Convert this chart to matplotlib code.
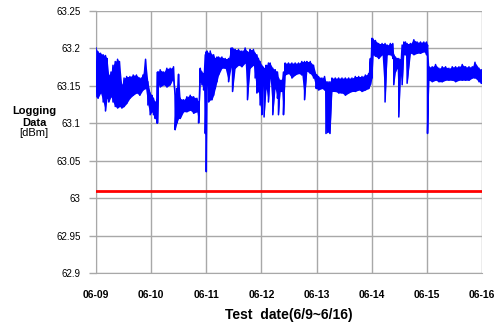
# logging data, 6/9 ~ 6/16

import numpy as np
import matplotlib.pyplot as plt

plt.rcParams['font.family'] = ['Liberation Sans', 'DejaVu Sans']

# time in days from 06-09 00:00, upper / lower level of the logged band (dBm)
t_day = [0.000, 0.036, 0.083, 0.130, 0.172, 0.201, 0.231, 0.272, 0.308, 0.349,
         0.391, 0.426, 0.467, 0.509, 0.556, 0.615, 0.675, 0.734, 0.793, 0.852,
         0.899, 0.941, 0.982,
         1.012, 1.042, 1.073, 1.103, 1.115, 1.133, 1.164, 1.224, 1.285, 1.345,
         1.406, 1.436, 1.467, 1.497, 1.527, 1.588, 1.648, 1.709, 1.770, 1.830,
         1.861, 1.891, 1.921, 1.952, 1.982, 2.000,
         2.012, 2.042, 2.072, 2.102, 2.133, 2.163, 2.193, 2.223, 2.283, 2.343,
         2.404, 2.452, 2.476, 2.524, 2.584, 2.645, 2.705, 2.747, 2.795, 2.855,
         2.886, 2.916, 2.946, 2.976, 3.006,
         3.024, 3.048, 3.085, 3.127, 3.158, 3.206, 3.248, 3.291, 3.309, 3.339,
         3.370, 3.400, 3.430, 3.491, 3.552, 3.612, 3.673, 3.733, 3.782, 3.824,
         3.885, 3.945, 3.994,
         4.006, 4.036, 4.097, 4.145, 4.170, 4.206, 4.242, 4.279, 4.339, 4.400,
         4.461, 4.521, 4.582, 4.642, 4.703, 4.764, 4.824, 4.885, 4.945, 4.976,
         5.006,
         5.024, 5.067, 5.127, 5.188, 5.242, 5.279, 5.339, 5.382, 5.400, 5.430,
         5.461, 5.491, 5.521, 5.552, 5.582, 5.612, 5.642, 5.703, 5.764, 5.824,
         5.885, 5.945, 5.994, 6.012,
         6.036, 6.097, 6.158, 6.218, 6.279, 6.339, 6.400, 6.461, 6.521, 6.582,
         6.642, 6.703, 6.764, 6.824, 6.873, 6.945, 6.988]

hi = [63.200, 63.195, 63.193, 63.191, 63.190, 63.186, 63.164, 63.168, 63.177, 63.182,
      63.185, 63.182, 63.151, 63.160, 63.162, 63.162, 63.164, 63.164, 63.160, 63.164,
      63.185, 63.155, 63.140,
      63.137, 63.133, 63.128, 63.131, 63.168, 63.168, 63.171, 63.168, 63.173, 63.173,
      63.175, 63.137, 63.146, 63.165, 63.133, 63.131, 63.135, 63.137, 63.135, 63.133,
      63.128, 63.173, 63.168, 63.166, 63.191, 63.195,
      63.196, 63.193, 63.196, 63.191, 63.191, 63.186, 63.188, 63.188, 63.188, 63.186,
      63.186, 63.200, 63.200, 63.198, 63.198, 63.196, 63.200, 63.195, 63.198, 63.198,
      63.193, 63.191, 63.186, 63.182, 63.177,
      63.175, 63.173, 63.177, 63.180, 63.180, 63.173, 63.171, 63.168, 63.160, 63.157,
      63.157, 63.168, 63.180, 63.180, 63.180, 63.180, 63.180, 63.182, 63.182, 63.182,
      63.182, 63.177, 63.164,
      63.164, 63.162, 63.160, 63.162, 63.155, 63.155, 63.155, 63.160, 63.160, 63.160,
      63.160, 63.160, 63.160, 63.160, 63.162, 63.162, 63.162, 63.164, 63.166, 63.186,
      63.213,
      63.212, 63.210, 63.206, 63.206, 63.206, 63.204, 63.206, 63.206, 63.191, 63.188,
      63.186, 63.186, 63.184, 63.204, 63.208, 63.208, 63.206, 63.206, 63.211, 63.208,
      63.208, 63.208, 63.208, 63.204,
      63.175, 63.175, 63.178, 63.173, 63.175, 63.175, 63.173, 63.175, 63.175, 63.175,
      63.178, 63.175, 63.175, 63.175, 63.181, 63.173, 63.171]

lo = [63.135, 63.133, 63.140, 63.128, 63.116, 63.133, 63.128, 63.135, 63.128, 63.122,
      63.120, 63.122, 63.120, 63.122, 63.126, 63.133, 63.137, 63.140, 63.137, 63.144,
      63.146, 63.124, 63.111,
      63.115, 63.111, 63.106, 63.100, 63.100, 63.151, 63.148, 63.151, 63.148, 63.151,
      63.160, 63.091, 63.100, 63.106, 63.106, 63.115, 63.115, 63.117, 63.113, 63.115,
      63.100, 63.155, 63.151, 63.144, 63.086, 63.035,
      63.151, 63.128, 63.131, 63.131, 63.137, 63.146, 63.155, 63.164, 63.173, 63.173,
      63.155, 63.175, 63.142, 63.173, 63.177, 63.175, 63.180, 63.131, 63.173, 63.177,
      63.160, 63.140, 63.142, 63.124, 63.111,
      63.151, 63.108, 63.146, 63.128, 63.160, 63.111, 63.146, 63.133, 63.111, 63.142,
      63.142, 63.111, 63.164, 63.166, 63.160, 63.164, 63.166, 63.164, 63.131, 63.169,
      63.166, 63.160, 63.146,
      63.146, 63.144, 63.146, 63.144, 63.086, 63.088, 63.086, 63.142, 63.142, 63.140,
      63.140, 63.137, 63.140, 63.142, 63.142, 63.144, 63.142, 63.144, 63.146, 63.151,
      63.160,
      63.191, 63.189, 63.186, 63.191, 63.128, 63.191, 63.191, 63.186, 63.151, 63.168,
      63.173, 63.108, 63.164, 63.151, 63.191, 63.191, 63.153, 63.193, 63.191, 63.193,
      63.193, 63.195, 63.191, 63.086,
      63.157, 63.155, 63.157, 63.155, 63.155, 63.157, 63.157, 63.157, 63.155, 63.157,
      63.157, 63.157, 63.157, 63.160, 63.160, 63.155, 63.153]

limit = 63.01  # red reference level

date_labels = ['06-09', '06-10', '06-11', '06-12', '06-13', '06-14', '06-15', '06-16']
y_ticks = [62.9, 62.95, 63, 63.05, 63.1, 63.15, 63.2, 63.25]
y_tick_labels = ['62.9', '62.95', '63', '63.05', '63.1', '63.15', '63.2', '63.25']

t = np.array(t_day)
hi = np.array(hi)
lo = np.array(lo)

# zigzag hi -> lo so the band looks like noisy logging data
xs = np.repeat(t, 2)
ys = np.column_stack([hi, lo]).ravel()

fig = plt.figure(figsize=(5.02, 3.27), dpi=100)
ax = fig.add_axes([96/502, 1 - 273/327, 386/502, 262.5/327])

grid_c = '#a8a8a8'
ax.fill_between(t, lo, hi, color='#0000ff', lw=0, zorder=3)
ax.plot(xs, ys, color='#0000ff', lw=1.1, zorder=3)
ax.axhline(limit, color='#ff0000', lw=2, zorder=4)

ax.set_xlim(0, 7)
ax.set_ylim(62.9, 63.25)
ax.set_xticks(range(len(date_labels)))
ax.set_xticklabels(date_labels, fontsize=7.5, fontweight='bold')
ax.set_yticks(y_ticks)
ax.set_yticklabels(y_tick_labels, fontsize=7)
ax.tick_params(axis='x', length=0, pad=12)
ax.tick_params(axis='y', length=5, width=1, color=grid_c, pad=6)
ax.grid(True, color=grid_c, lw=1)
ax.set_axisbelow(True)
for s in ax.spines.values():
    s.set_color(grid_c)
ax.spines['top'].set_visible(False)
ax.spines['right'].set_visible(False)

# y axis title, three short lines
fig.text(34/502, 1 - 111/327, 'Logging', ha='center', va='center', fontsize=8, fontweight='bold')
fig.text(34/502, 1 - 122.5/327, 'Data', ha='center', va='center', fontsize=8, fontweight='bold')
fig.text(34/502, 1 - 133/327, '[dBm]', ha='center', va='center', fontsize=8)
fig.text(289/502, 1 - 315/327, 'Test  date(6/9~6/16)', ha='center', va='center',
         fontsize=10, fontweight='bold')

fig.savefig('out.png', dpi=100)
